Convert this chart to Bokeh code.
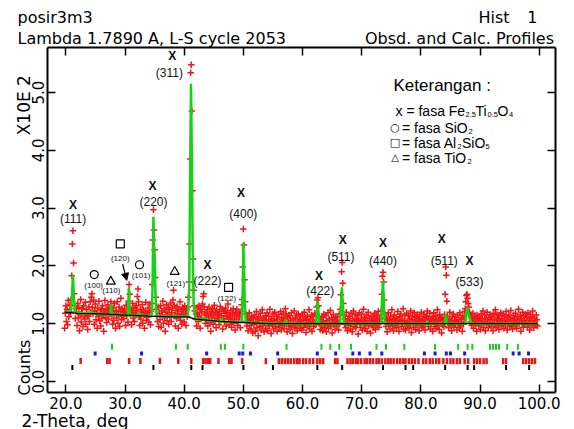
import numpy as np
from bokeh.plotting import figure
from bokeh.models import (Range1d, LinearAxis, FixedTicker, PrintfTickFormatter, Label, Arrow,
                          NormalHead, CustomJSTickFormatter)
from bokeh.core.properties import value
from bokeh.embed import file_html
from bokeh.resources import INLINE

# ---------------- data ----------------
obs_start = 19.8   # 2-theta of first observed point (deg)
obs_step = 0.1     # step (deg)
obs_counts = [
    92, 118, 131, 104, 125, 98, 140, 112, 121, 133, 119, 142, 183, 238, 261, 205, 152, 131, 109, 126,
    121, 97, 135, 110, 128, 88, 116, 142, 103, 119, 126, 95, 131, 112, 108, 137, 99, 124, 115, 90,
    113, 129, 104, 138, 120, 146, 152, 128, 117, 141, 99, 122, 134, 107, 118, 92, 127, 113, 139, 105,
    118, 96, 124, 109, 131, 115, 87, 122, 140, 111, 126, 102, 119, 133, 108, 124, 117, 129, 138, 121,
    114, 99, 127, 106, 135, 118, 92, 123, 110, 138, 101, 116, 129, 95, 121, 144, 107, 126, 113, 120,
    109, 125, 118, 97, 132, 114, 121, 103, 139, 168, 151, 117, 126, 98, 123, 135, 110, 119, 104, 128,
    116, 131, 122, 147, 160, 138, 112, 97, 125, 108, 119, 133, 101, 124, 115, 92, 121, 137, 106, 118,
    111, 127, 103, 120, 134, 98, 122, 135, 168, 245, 297, 262, 228, 180, 146, 125, 113, 104, 129, 95,
    118, 107, 131, 94, 122, 115, 139, 101, 126, 110, 87, 120, 133, 105, 116, 128, 99, 124, 112, 136,
    104, 119, 127, 141, 158, 132, 115, 96, 123, 109, 130, 117, 92, 125, 113, 138, 106, 121, 99, 128,
    115, 126, 103, 131, 118, 97, 124, 112, 129, 146, 172, 238, 385, 534, 548, 468, 330, 212, 158, 131,
    122, 108, 117, 96, 128, 113, 104, 131, 119, 92, 125, 110, 121, 134, 147, 152, 129, 115, 101, 118,
    107, 124, 96, 113, 129, 102, 118, 87, 121, 110, 126, 99, 115, 132, 105, 119, 93, 124, 111, 108,
    117, 98, 121, 130, 106, 114, 125, 91, 109, 122, 103, 118, 127, 96, 112, 120, 134, 108, 115, 99,
    111, 123, 94, 107, 118, 126, 101, 114, 89, 120, 108, 125, 97, 116, 104, 119, 112, 93, 121, 133,
    142, 198, 264, 236, 176, 138, 117, 104, 96, 112, 88, 105, 119, 97, 108, 91, 113, 102, 84, 110,
    98, 115, 87, 104, 121, 93, 108, 79, 112, 101, 95, 118, 89, 106, 124, 97, 110, 86, 103, 114,
    92, 107, 119, 88, 101, 113, 96, 125, 104, 83, 109, 98, 117, 91, 106, 120, 95, 102, 113, 87,
    108, 99, 116, 94, 103, 121, 89, 111, 97, 105, 118, 92, 109, 126, 117, 100, 86, 112, 103, 95,
    114, 90, 106, 119, 97, 83, 108, 101, 122, 93, 110, 96, 115, 88, 104, 117, 99, 107, 92, 113,
    101, 89, 116, 105, 94, 120, 98, 110, 85, 107, 113, 96, 102, 124, 91, 108, 99, 115, 87, 104,
    112, 95, 103, 118, 98, 114, 129, 141, 145, 131, 113, 102, 90, 107, 96, 111, 88, 104, 117, 93,
    100, 114, 86, 105, 97, 119, 92, 108, 101, 123, 95, 110, 84, 103, 116, 98, 107, 90, 112, 104,
    96, 111, 103, 89, 117, 101, 125, 150, 190, 206, 170, 135, 115, 99, 108, 93, 120, 102, 88, 109,
    97, 113, 105, 91, 118, 100, 86, 109, 122, 95, 104, 116, 93, 107, 99, 114, 82, 106, 119, 101,
    94, 108, 117, 89, 103, 125, 98, 111, 92, 105, 115, 87, 102, 120, 96, 109, 100, 84, 113, 106,
    99, 112, 93, 106, 118, 90, 104, 115, 97, 109, 121, 94, 103, 111, 108, 122, 151, 182, 189, 172,
    141, 117, 103, 95, 110, 86, 105, 119, 98, 107, 91, 113, 101, 124, 96, 108, 88, 115, 103, 97,
    110, 93, 106, 121, 99, 87, 112, 104, 117, 95, 108, 100, 126, 91, 105, 114, 89, 102, 118, 96,
    104, 115, 92, 109, 98, 122, 85, 107, 113, 101, 94, 119, 106, 90, 111, 103, 116, 97, 108, 88,
    113, 99, 105, 120, 93, 108, 96, 117, 102, 89, 111, 106, 114, 122, 109, 95, 104, 118, 91, 107,
    100, 112, 87, 106, 119, 95, 103, 114, 92, 108, 124, 97, 105, 90, 116, 101, 111, 84, 109, 98,
    106, 95, 116, 151, 198, 184, 139, 113, 102, 93, 108, 120, 97, 105, 88, 112, 101, 117, 94, 106,
    98, 111, 104, 89, 115, 101, 107, 93, 119, 96, 110, 103, 87, 114, 99, 108, 121, 126, 138, 149,
    151, 144, 135, 129, 120, 116, 103, 111, 97, 106, 118, 92, 104, 113, 99, 108, 87, 115, 102, 110,
    96, 112, 105, 90, 117, 101, 108, 122, 94, 103, 115, 88, 109, 98, 120, 104, 93, 111, 100, 116,
    107, 95, 113, 102, 88, 118, 99, 110, 124, 93, 105, 116, 97, 108, 90, 114, 103, 119, 96, 109,
    101, 117, 92, 106, 113, 98, 121, 104, 89, 111, 100, 115, 95, 108, 123, 97, 106, 91, 114, 102,
    110, 96, 118, 103, 92, 112, 107, 125, 99, 104, 115, 87, 109, 101, 120, 94, 113, 106, 98, 117,
    103, 111, 94, 119, 100, 108, 89, 116, 105, 97, 112, 122, 101, 93, 110, 104, 98, 115, 107, 96,
]

calc_x = [19.8, 20.5, 20.9, 21.05, 21.2, 21.35, 21.6, 23.0, 24.1, 24.25, 24.4, 27.5, 27.65, 27.8,
          30.5, 30.65, 30.8, 32.2, 32.35, 32.5, 34.5, 34.65, 34.8, 34.9, 35.0, 35.15, 35.35,
          38.3, 38.4, 38.5, 40.6, 40.85, 41.0, 41.15, 41.3, 41.45, 41.6, 41.9, 43.2, 43.35, 43.5,
          46.2, 46.3, 46.4, 49.75, 49.9, 50.0, 50.1, 50.25, 50.45, 57.1, 57.2, 57.3,
          62.3, 62.45, 62.55, 62.7, 62.85, 66.35, 66.5, 66.65, 66.8, 67.0,
          73.3, 73.45, 73.58, 73.72, 73.9, 81.0, 81.1, 81.2, 84.0, 84.15, 84.23, 84.35, 84.5,
          87.55, 87.7, 87.8, 88.0, 88.3, 88.6, 99.7]
calc_counts = [122, 120, 125, 150, 185, 145, 120, 118, 118, 122, 118, 116, 134, 116,
               115, 163, 115, 114, 120, 114, 113, 160, 285, 230, 220, 150, 113,
               112, 116, 112, 112, 160, 350, 515, 380, 210, 135, 108, 107, 112, 107,
               104, 110, 104, 103, 160, 240, 200, 130, 102, 100, 108, 100,
               100, 120, 140, 120, 100, 100, 130, 163, 135, 100,
               100, 145, 174, 145, 100, 100, 105, 100, 100, 110, 117, 108, 100,
               100, 120, 128, 120, 108, 100, 100]

bkg_x = [19.8, 22.0, 26.0, 30.0, 34.0, 38.0, 40.6, 41.9, 46.0, 50.0, 54.0, 60.0, 70.0, 80.0, 90.0, 99.7]
bkg_counts = [120, 118, 117, 115, 113, 112, 112, 108, 104, 102, 100, 100, 100, 100, 100, 100]

ticks_green = [27.8, 38.6, 40.6, 46.2, 46.9, 50.0, 57.3, 63.2, 64.7, 66.2, 68.2, 72.5, 74.1, 77.2,
               82.4, 86.3, 87.9, 88.7, 91.7, 92.2, 92.7, 93.2, 94.6, 96.4]
ticks_blue = [24.95, 32.8, 43.8, 49.3, 49.9, 51.2, 55.8, 62.5, 65.6, 68.5, 69.6, 71.4, 73.4, 80.6,
              82.4, 84.3, 85.0, 87.4, 95.6, 96.6, 98.2]
ticks_red = [22.5, 27.0, 27.4, 30.7, 32.6, 35.9, 39.0, 41.2, 43.2, 43.6, 44.0, 44.4, 45.8, 47.6, 48.0,
             49.8, 53.8, 56.0, 56.5, 57.0, 57.5, 58.0, 58.6, 59.1, 59.5, 60.1, 60.6, 61.2, 61.8, 62.5,
             63.0, 63.5, 65.5, 65.9, 67.6, 68.1, 68.5, 69.0, 69.4, 69.9, 70.5, 70.9, 71.4, 71.9, 72.5,
             72.9, 73.4, 74.0, 74.5, 74.9, 75.4, 76.0, 76.5, 77.0, 77.4, 78.0, 78.5, 79.0, 79.6, 80.4,
             80.9, 81.5, 82.0, 82.6, 83.1, 83.8, 84.4, 85.0, 85.5, 86.1, 86.6, 87.4, 88.0, 89.0, 89.5,
             90.0, 90.6, 91.1, 93.9, 94.4, 97.3, 97.8, 98.3, 98.8, 99.3]
ticks_black = [21.1, 34.8, 41.2, 43.1, 50.0, 55.0, 62.5, 66.7, 73.6, 77.4, 78.7, 84.1, 87.9, 89.0, 94.4, 98.3]

x_ticks = [20, 30, 40, 50, 60, 70, 80, 90, 100]
y_ticks = [0, 1, 2, 3, 4, 5]

# peak annotations (2-theta, intensity/100)
hkl_text = ["(111)", "(220)", "(311)", "(222)", "(400)", "(422)", "(511)", "(440)", "(511)", "(533)"]
hkl_x = [21.23, 34.82, 37.5, 43.95, 50.0, 63.0, 66.5, 73.6, 83.95, 88.2]
hkl_y = [2.81, 3.11, 5.34, 1.74, 2.90, 1.57, 2.15, 2.09, 2.09, 1.73]
mark_x = [21.23, 34.65, 38.0, 43.95, 49.6, 62.8, 66.8, 73.6, 83.55, 88.2]
mark_y = [3.06, 3.39, 5.63, 2.02, 3.26, 1.83, 2.45, 2.39, 2.46, 2.08]
minor_text = ["(100)", "(110)", "(120)", "(101)", "(121)", "(122)"]
minor_x = [24.7, 27.7, 29.2, 32.7, 38.6, 47.2]
minor_y = [1.66, 1.57, 2.13, 1.83, 1.69, 1.43]
circ_x, circ_y = [24.8, 32.45], [1.85, 2.02]
tri_x, tri_y = [27.6, 38.4], [1.73, 1.90]
sq_x, sq_y = [29.2, 47.5], [2.38, 1.63]

# ---------------- figure ----------------
two_theta = np.round(obs_start + obs_step * np.arange(len(obs_counts)), 2)
obs = np.array(obs_counts) / 100.0
calc = np.array(calc_counts) / 100.0
bkg = np.array(bkg_counts) / 100.0

# plot box limits (data); the frame covers the whole canvas
XB = (16.9, 102.8)
YB = (-0.19, 5.78)
W, H = 574, 429
PXD = 5.917   # px per degree
PYD = 57.8    # px per 100 counts
BOX_L, BOX_B = 47, 392   # pixel position of the plot box (left, bottom)
x0 = XB[0] - BOX_L / PXD
x1 = x0 + W / PXD
y0 = YB[0] - (H - BOX_B) / PYD
y1 = y0 + H / PYD

p = figure(width=W, height=H, output_backend="svg", toolbar_location=None,
           x_range=Range1d(x0, x1), y_range=Range1d(y0, y1),
           min_border=0, x_axis_type=None, y_axis_type=None)
p.grid.visible = False
p.outline_line_color = None
p.background_fill_color = "white"
p.border_fill_color = "white"

FONT = "DejaVu Sans"


def axis(ticks, loc, bounds, labels):
    ax = LinearAxis(ticker=FixedTicker(ticks=ticks), fixed_location=loc, bounds=bounds,
                    major_tick_in=8, major_tick_out=0, minor_tick_in=0, minor_tick_out=0,
                    axis_line_width=2, axis_line_color="black", major_tick_line_width=1.5,
                    major_label_text_font=FONT, major_label_text_font_size="15px",
                    major_label_text_color="black")
    if labels:
        ax.formatter = PrintfTickFormatter(format="%.1f")
    else:
        ax.formatter = CustomJSTickFormatter(code="return ''")
    return ax


bottom = axis(x_ticks, YB[0], XB, True)
bottom.major_label_standoff = 4
left = axis(y_ticks, XB[0], YB, True)
left.major_label_orientation = "vertical"
left.major_label_standoff = 3
top = axis(x_ticks, YB[1], XB, False)
right = axis(y_ticks, XB[1], YB, False)
p.add_layout(bottom, "below")
p.add_layout(left, "left")
p.add_layout(top, "above")
p.add_layout(right, "right")

# observed
p.scatter(two_theta, obs, marker="cross", size=6.5, line_color="#f41414", line_width=1.5)
# calculated and background
p.line(calc_x, calc, line_color="#14d214", line_width=2.5)
p.line(bkg_x, bkg, line_color="black", line_width=1.3)

# reflection ticks
p.rect(x=ticks_green, y=0.60, width=2, height=6, width_units="screen", height_units="screen",
       fill_color="#1ecc1e", line_color=None)
p.rect(x=ticks_blue, y=0.485, width=3, height=4, width_units="screen", height_units="screen",
       fill_color="#1a1ae6", line_color=None)
p.rect(x=ticks_red, y=0.353, width=2.5, height=6, width_units="screen", height_units="screen",
       fill_color="#e81414", line_color=None)
p.rect(x=ticks_black, y=0.242, width=2, height=5, width_units="screen", height_units="screen",
       fill_color="black", line_color=None)

# peak annotations
p.text(x=mark_x, y=mark_y, text=["X"] * len(mark_x), text_font=value("Liberation Sans"),
       text_font_size="12px", text_font_style="bold", text_align="center", text_baseline="middle",
       text_color="#111111")
p.text(x=hkl_x, y=hkl_y, text=hkl_text, text_font=value("Liberation Sans"),
       text_font_size="12px", text_align="center", text_baseline="middle", text_color="#111111")
p.text(x=minor_x, y=minor_y, text=minor_text, text_font=value("Liberation Sans"),
       text_font_size="8px", text_align="center", text_baseline="middle", text_color="#111111")
p.scatter(circ_x, circ_y, marker="circle", size=8, fill_color=None, line_color="black", line_width=1.2)
p.scatter(tri_x, tri_y, marker="triangle", size=9, fill_color=None, line_color="black", line_width=1.2)
p.scatter(sq_x, sq_y, marker="square", size=8, fill_color=None, line_color="black", line_width=1.2)
p.add_layout(Arrow(x_start=29.6, y_start=2.03, x_end=30.3, y_end=1.75, line_width=1.2,
                   end=NormalHead(size=7, fill_color="black", line_color="black")))


# ---------------- texts placed in pixels (from top-left) ----------------
def lab(px, py, text, size, font=FONT, align="left", baseline="alphabetic", angle=0.0, style="normal"):
    p.add_layout(Label(x=px, y=H - py, x_units="screen", y_units="screen", text=text,
                       text_font=font, text_font_size=f"{size}px", text_align=align,
                       text_baseline=baseline, angle=angle, text_font_style=style,
                       text_color="black"))


lab(17, 16.5, "posir3m3", 16)
lab(17, 37.5, "Lambda 1.7890 A, L-S cycle 2053", 16)
lab(478, 16.5, "Hist", 16)
lab(537, 16.5, "1", 16, align="right")
lab(553.5, 37.5, "Obsd. and Calc. Profiles", 16, align="right")
lab(23, 102, "X10E  2", 17, align="center", baseline="middle", angle=np.pi / 2)
lab(24, 367, "Counts", 16, align="center", baseline="middle", angle=np.pi / 2)
lab(21, 420, "2-Theta, deg", 17)

LF = "Liberation Sans"
FS, SS = 14, 7.5
lab(393, 85, "Keterangan :", 17, font=LF, baseline="middle")
# row 1
r = 110
lab(395, r, "x = fasa Fe", FS, font=LF, baseline="middle")
lab(465, r + 4, "2.5", SS, font=LF, baseline="middle")
lab(475, r, "Ti", FS, font=LF, baseline="middle")
lab(487, r + 4, "0.5", SS, font=LF, baseline="middle")
lab(497, r, "O", FS, font=LF, baseline="middle")
lab(508.5, r + 4, "4", SS, font=LF, baseline="middle")
# row 2
r = 127
lab(394.5, r, "\u25cb", 11, align="center", baseline="middle")
lab(401.5, r, "= fasa SiO", FS, font=LF, baseline="middle")
lab(468, r + 4, "2", SS, font=LF, baseline="middle")
# row 3
r = 142
lab(394.5, r, "\u25a1", 11, align="center", baseline="middle")
lab(401.5, r, "= fasa Al", FS, font=LF, baseline="middle")
lab(457, r + 4, "2", SS, font=LF, baseline="middle")
lab(461.5, r, "SiO", FS, font=LF, baseline="middle")
lab(485, r + 4, "5", SS, font=LF, baseline="middle")
# row 4
r = 157
lab(394.5, r, "\u25b3", 10, align="center", baseline="middle")
lab(401.5, r, "= fasa TiO", FS, font=LF, baseline="middle")
lab(467, r + 4, "2", SS, font=LF, baseline="middle")

open("out.html", "w").write(file_html(p, INLINE))
